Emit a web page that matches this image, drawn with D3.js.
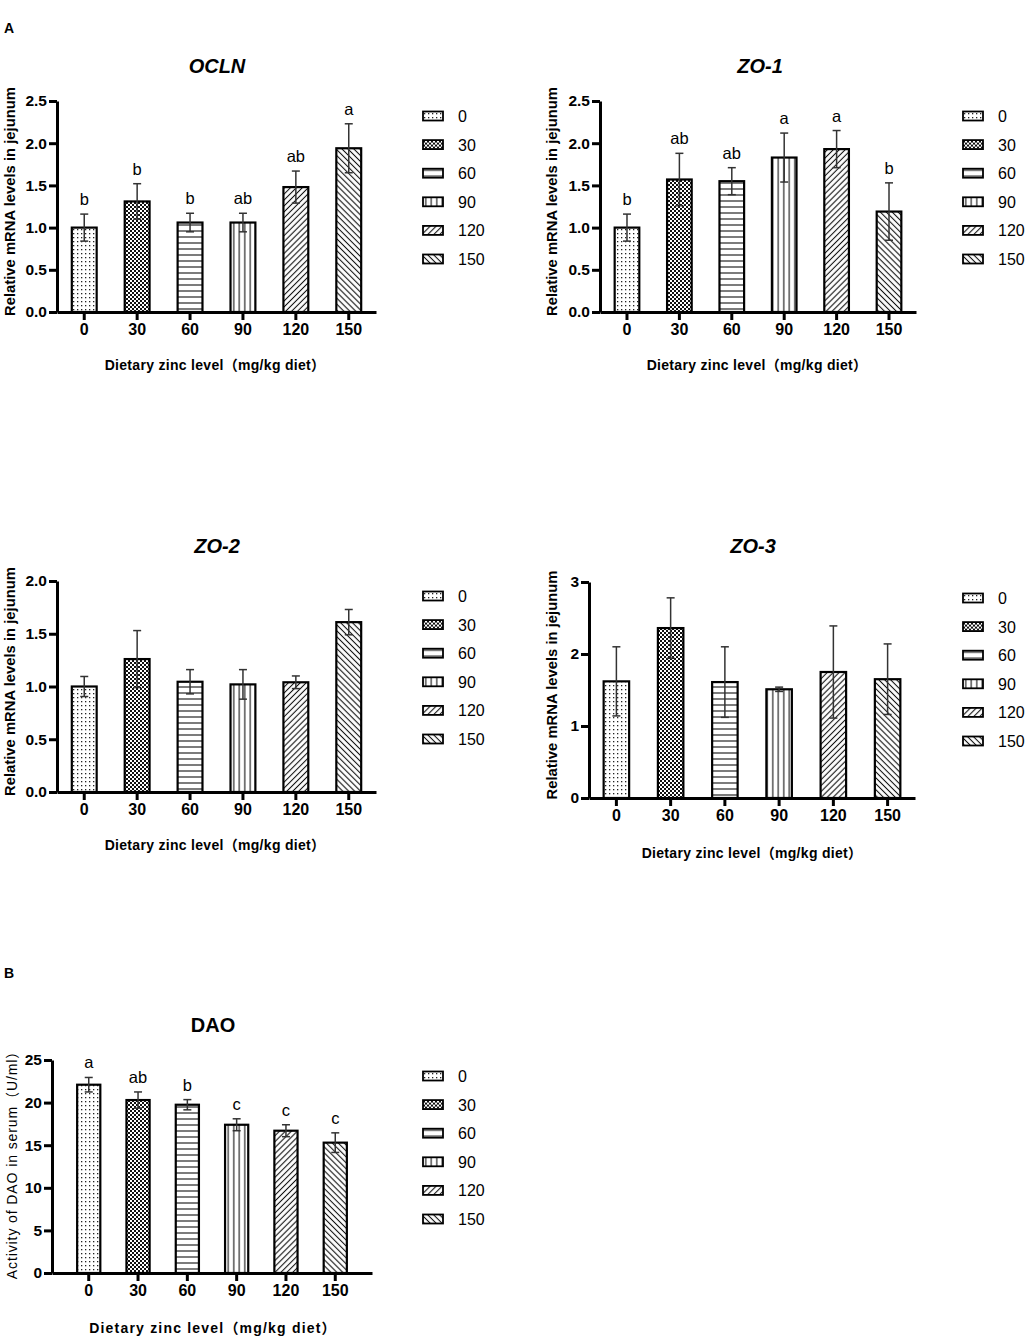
<!DOCTYPE html>
<html>
<head>
<meta charset="utf-8">
<script src="https://cdn.jsdelivr.net/npm/d3@7"></script>
<style>
  body { margin: 0; background: #fff; }
  text { font-family: Arial, "Liberation Sans", "Noto Sans CJK SC", sans-serif; }
</style>
</head>
<body>
<div id="chart"></div>
<script>
// zinc levels (mg/kg diet)
const groups = ["0", "30", "60", "90", "120", "150"];

const oclnMean = [1.00, 1.31, 1.06, 1.06, 1.48, 1.94];
const oclnErr = [0.16, 0.21, 0.11, 0.11, 0.19, 0.29];
const oclnLetters = ["b", "b", "b", "ab", "ab", "a"];

const zo1Mean = [1.00, 1.57, 1.55, 1.83, 1.93, 1.19];
const zo1Err = [0.16, 0.31, 0.16, 0.29, 0.22, 0.34];
const zo1Letters = ["b", "ab", "ab", "a", "a", "b"];

const zo2Mean = [1.00, 1.26, 1.045, 1.02, 1.04, 1.61];
const zo2Err = [0.095, 0.27, 0.115, 0.14, 0.06, 0.12];

const zo3Mean = [1.62, 2.36, 1.61, 1.51, 1.75, 1.65];
const zo3Err = [0.48, 0.42, 0.49, 0.03, 0.64, 0.49];

const daoMean = [22.1, 20.3, 19.75, 17.4, 16.7, 15.3];
const daoErr = [0.85, 0.95, 0.6, 0.7, 0.7, 1.15];
const daoLetters = ["a", "ab", "b", "c", "c", "c"];

const mrnaTicks = [0, 0.5, 1.0, 1.5, 2.0, 2.5];
const zo2Ticks = [0, 0.5, 1.0, 1.5, 2.0];
const zo3Ticks = [0, 1, 2, 3];
const daoTicks = [0, 5, 10, 15, 20, 25];

const xTitle = "Dietary zinc level\uFF08mg/kg diet\uFF09";
const mrnaTitle = "Relative mRNA levels in jejunum";

const svg = d3.select("#chart").append("svg")
    .attr("width", 1031)
    .attr("height", 1339);

// fill patterns, one per group
const defs = svg.append("defs");

function pat(id, w, h, transform) {
    const p = defs.append("pattern")
        .attr("id", id)
        .attr("patternUnits", "userSpaceOnUse")
        .attr("width", w)
        .attr("height", h);
    if (transform) p.attr("patternTransform", transform);
    p.append("rect").attr("width", w).attr("height", h).attr("fill", "#fff");
    return p;
}

pat("p0", 4, 4).append("rect").attr("x", 1).attr("y", 1).attr("width", 1.3).attr("height", 1.3).attr("fill", "#222");
const chk = pat("p1", 4, 4);
chk.append("rect").attr("width", 2).attr("height", 2).attr("fill", "#111");
chk.append("rect").attr("x", 2).attr("y", 2).attr("width", 2).attr("height", 2).attr("fill", "#111");
pat("p2", 6, 6).append("line").attr("x1", 0).attr("x2", 6).attr("y1", 3).attr("y2", 3).attr("stroke", "#111").attr("stroke-width", 1.1);
pat("p3", 5.5, 6).append("line").attr("x1", 2.75).attr("x2", 2.75).attr("y1", 0).attr("y2", 6).attr("stroke", "#111").attr("stroke-width", 1.1);
pat("p4", 4.2, 6, "rotate(45)").append("line").attr("x1", 2.1).attr("x2", 2.1).attr("y1", 0).attr("y2", 6).attr("stroke", "#111").attr("stroke-width", 1.1);
pat("p5", 4.2, 6, "rotate(-45)").append("line").attr("x1", 2.1).attr("x2", 2.1).attr("y1", 0).attr("y2", 6).attr("stroke", "#111").attr("stroke-width", 1.1);

const panels = [
    { title: "OCLN", italic: true, mean: oclnMean, err: oclnErr, letters: oclnLetters,
      yMax: 2.5, ticks: mrnaTicks, fmt: d3.format(".1f"), yTitle: mrnaTitle,
      x0: 57, x1: 376, pOuter: 0.28, y0: 312, yTop: 101,
      titleX: 217, titleY: 73, yLabX: 10, xLabX: 215, xLabY: 370,
      legX: 423, legY: 116 },
    { title: "ZO-1", italic: true, mean: zo1Mean, err: zo1Err, letters: zo1Letters,
      yMax: 2.5, ticks: mrnaTicks, fmt: d3.format(".1f"), yTitle: mrnaTitle,
      x0: 600, x1: 916, pOuter: 0.28, y0: 312, yTop: 101,
      titleX: 760, titleY: 73, yLabX: 552, xLabX: 757, xLabY: 370,
      legX: 963, legY: 116 },
    { title: "ZO-2", italic: true, mean: zo2Mean, err: zo2Err, letters: null,
      yMax: 2.0, ticks: zo2Ticks, fmt: d3.format(".1f"), yTitle: mrnaTitle,
      x0: 57, x1: 376, pOuter: 0.28, y0: 792, yTop: 581,
      titleX: 217, titleY: 553, yLabX: 10, xLabX: 215, xLabY: 850,
      legX: 423, legY: 596 },
    { title: "ZO-3", italic: true, mean: zo3Mean, err: zo3Err, letters: null,
      yMax: 3, ticks: zo3Ticks, fmt: d3.format("d"), yTitle: mrnaTitle,
      x0: 589, x1: 915, pOuter: 0.27, y0: 798, yTop: 582,
      titleX: 753, titleY: 553, yLabX: 552, xLabX: 752, xLabY: 858,
      legX: 963, legY: 598 },
    { title: "DAO", italic: false, mean: daoMean, err: daoErr, letters: daoLetters,
      yMax: 25, ticks: daoTicks, fmt: d3.format("d"), yTitle: "Activity of DAO in serum\uFF08U/ml\uFF09",
      x0: 52, x1: 372, pOuter: 0.51, y0: 1273, yTop: 1060,
      titleX: 213, titleY: 1032, yLabX: 12, xLabX: 213, xLabY: 1333,
      legX: 423, legY: 1076, spaced: true }
];

function drawPanel(p) {
    const g = svg.append("g");
    const x = d3.scaleBand().domain(groups).range([p.x0, p.x1])
        .paddingInner(0.53).paddingOuter(p.pOuter);
    const y = d3.scaleLinear().domain([0, p.yMax]).range([p.y0, p.yTop]);

    // bars
    g.selectAll(".bar").data(groups).join("rect")
        .attr("x", d => x(d))
        .attr("y", (d, i) => y(p.mean[i]))
        .attr("width", x.bandwidth())
        .attr("height", (d, i) => y(0) - y(p.mean[i]))
        .attr("fill", (d, i) => "url(#p" + i + ")")
        .attr("stroke", "#000")
        .attr("stroke-width", 2.2);

    // error bars (mean +/- err, caps both ends)
    const eb = g.selectAll(".eb").data(groups).join("g")
        .attr("stroke", "#333").attr("stroke-width", 1.5);
    eb.append("line")
        .attr("x1", d => x(d) + x.bandwidth() / 2)
        .attr("x2", d => x(d) + x.bandwidth() / 2)
        .attr("y1", (d, i) => y(p.mean[i] - p.err[i]))
        .attr("y2", (d, i) => y(p.mean[i] + p.err[i]));
    [1, -1].forEach(s => {
        eb.append("line")
            .attr("x1", d => x(d) + x.bandwidth() / 2 - 4)
            .attr("x2", d => x(d) + x.bandwidth() / 2 + 4)
            .attr("y1", (d, i) => y(p.mean[i] + s * p.err[i]))
            .attr("y2", (d, i) => y(p.mean[i] + s * p.err[i]));
    });

    if (p.letters) {
        g.selectAll(".let").data(groups).join("text")
            .attr("x", d => x(d) + x.bandwidth() / 2)
            .attr("y", (d, i) => y(p.mean[i] + p.err[i]) - 9)
            .attr("text-anchor", "middle")
            .attr("font-size", 16.5)
            .text((d, i) => p.letters[i]);
    }

    // axes
    const yAxis = g.append("g")
        .attr("transform", "translate(" + p.x0 + ",0)")
        .call(d3.axisLeft(y).tickValues(p.ticks).tickFormat(p.fmt).tickSize(8).tickSizeOuter(0).tickPadding(2));
    const xAxis = g.append("g")
        .attr("transform", "translate(0," + p.y0 + ")")
        .call(d3.axisBottom(x).tickSize(8).tickSizeOuter(0).tickPadding(4));
    [yAxis, xAxis].forEach(a => {
        a.select(".domain").attr("stroke", "#000").attr("stroke-width", 3);
        a.selectAll(".tick line").attr("stroke", "#000").attr("stroke-width", 3);
        a.selectAll(".tick text")
            .attr("fill", "#000")
            .attr("font-weight", "bold")
            .style("font-family", "Arial, 'Liberation Sans', sans-serif");
    });
    yAxis.selectAll(".tick text").attr("font-size", 15.5);
    xAxis.selectAll(".tick text").attr("font-size", 16);

    // titles
    g.append("text")
        .attr("x", p.titleX).attr("y", p.titleY)
        .attr("text-anchor", "middle")
        .attr("font-size", 20)
        .attr("font-weight", "bold")
        .attr("font-style", p.italic ? "italic" : "normal")
        .text(p.title);

    g.append("text")
        .attr("transform", "translate(" + (p.yLabX + 5) + "," + ((p.y0 + p.yTop) / 2 - 5) + ") rotate(-90)")
        .attr("text-anchor", "middle")
        .attr("font-size", p.spaced ? 14 : 14.8)
        .attr("font-weight", p.spaced ? "normal" : "bold")
        .attr("letter-spacing", p.spaced ? 0.9 : 0)
        .text(p.yTitle);

    g.append("text")
        .attr("x", p.xLabX).attr("y", p.xLabY)
        .attr("text-anchor", "middle")
        .attr("font-size", 14)
        .attr("font-weight", "bold")
        .attr("letter-spacing", p.spaced ? 1.2 : 0.3)
        .text(xTitle);

    // legend
    const leg = g.selectAll(".leg").data(groups).join("g")
        .attr("transform", (d, i) => "translate(" + p.legX + "," + (p.legY + i * 28.6) + ")");
    leg.append("rect")
        .attr("x", 0).attr("y", -4.5)
        .attr("width", 20).attr("height", 9)
        .attr("fill", (d, i) => "url(#p" + i + ")")
        .attr("stroke", "#000").attr("stroke-width", 1.8);
    leg.append("text")
        .attr("x", 35).attr("y", 6)
        .attr("font-size", 16)
        .text(d => d);
}

panels.forEach(drawPanel);

// panel letters
svg.append("text").attr("x", 4).attr("y", 33).attr("font-size", 14).attr("font-weight", "bold").text("A");
svg.append("text").attr("x", 4).attr("y", 978).attr("font-size", 14).attr("font-weight", "bold").text("B");
</script>
</body>
</html>
